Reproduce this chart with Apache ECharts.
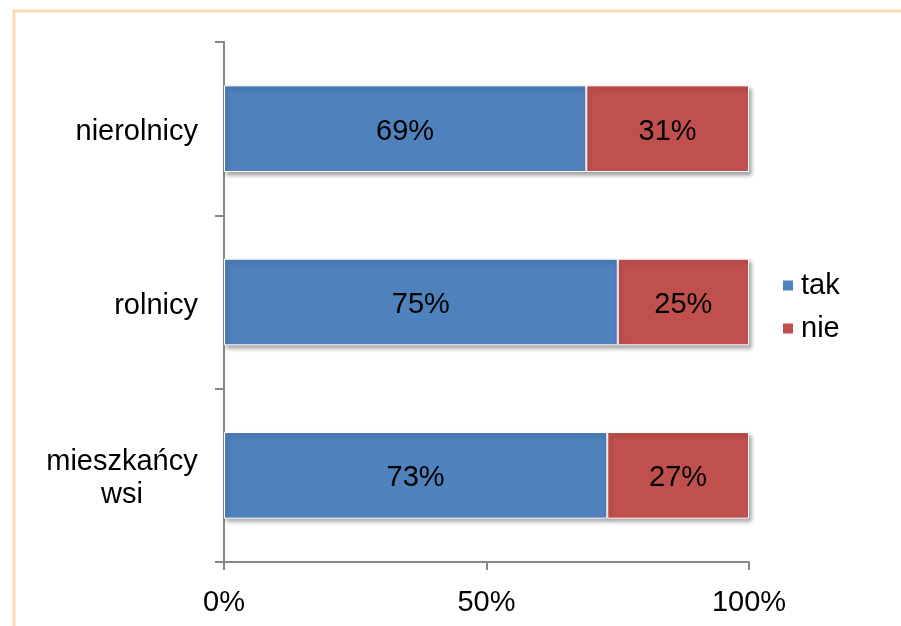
<!DOCTYPE html>
<html>
<head>
<meta charset="utf-8">
<script src="https://cdn.jsdelivr.net/npm/echarts@6/dist/echarts.min.js"></script>
<style>
  html, body { margin: 0; padding: 0; background: #fff; }
  #chart { width: 901px; height: 626px; }
</style>
</head>
<body>
<div id="chart"></div>
<script>
// categories from bottom to top (echarts category y axis starts at the bottom)
const categories = ['mieszkańcy\nwsi', 'rolnicy', 'nierolnicy'];
const takValues = [73, 75, 69];
const nieValues = [27, 25, 31];
const seriesNames = ['tak', 'nie'];

const myChart = echarts.init(document.getElementById('chart'));

const barStyle = (color) => ({
    color: color,
    borderColor: '#ffffff',
    borderWidth: 1,
    shadowColor: 'rgba(0,0,0,0.35)',
    shadowBlur: 4,
    shadowOffsetX: 2,
    shadowOffsetY: 3
});

const labelStyle = {
    show: true,
    position: 'inside',
    offset: [0, 3],
    formatter: '{c}%',
    color: '#000',
    fontSize: 29,
    fontFamily: 'Liberation Sans, Arial, sans-serif'
};

let option = {
    backgroundColor: '#fff',
    animation: false,
    textStyle: { fontFamily: 'Liberation Sans, Arial, sans-serif' },
    graphic: [
        {
            type: 'polyline',
            shape: { points: [[14, 626], [14, 11], [901, 11]] },
            style: { stroke: '#FDD9B5', lineWidth: 3, fill: null }
        }
    ],
    legend: {
        orient: 'vertical',
        left: 781,
        top: 271,
        padding: 0,
        itemWidth: 12,
        itemHeight: 12,
        itemGap: 14,
        icon: 'rect',
        data: seriesNames,
        textStyle: { fontSize: 29, color: '#000', padding: [2, 0, 0, 2] }
    },
    grid: {
        left: 224,
        right: 152,
        top: 42,
        bottom: 64,
        containLabel: false
    },
    xAxis: {
        type: 'value',
        min: 0,
        max: 100,
        interval: 50,
        splitLine: { show: false },
        axisLine: { show: true, lineStyle: { color: '#888', width: 2 } },
        axisTick: { show: true, length: 8, lineStyle: { color: '#888', width: 2 } },
        axisLabel: {
            formatter: '{value}%',
            color: '#000',
            fontSize: 29,
            margin: 26
        }
    },
    yAxis: {
        type: 'category',
        data: categories,
        axisLine: { show: true, lineStyle: { color: '#888', width: 2 } },
        axisTick: { show: true, length: 9, alignWithLabel: false, lineStyle: { color: '#888', width: 2 } },
        axisLabel: {
            color: '#000',
            fontSize: 29,
            margin: 26,
            lineHeight: 33,
            padding: [7, 0, 0, 0],
            // two-line labels are centred line by line, like the original
            formatter: (v) => v.includes('\n')
                ? v.split('\n').map(s => '{w|' + s + '}').join('\n')
                : v,
            rich: {
                w: { fontSize: 29, lineHeight: 33, width: 152, align: 'center', color: '#000' }
            }
        }
    },
    series: [
        {
            name: 'tak',
            type: 'bar',
            stack: 'total',
            barWidth: '50%',
            data: takValues,
            itemStyle: barStyle('#4F81BD'),
            label: labelStyle
        },
        {
            name: 'nie',
            type: 'bar',
            stack: 'total',
            barWidth: '50%',
            data: nieValues,
            itemStyle: barStyle('#C0504D'),
            label: labelStyle
        }
    ]
};

myChart.setOption(option);
window.onresize = () => {
    myChart.resize()
}
</script>
</body>
</html>
